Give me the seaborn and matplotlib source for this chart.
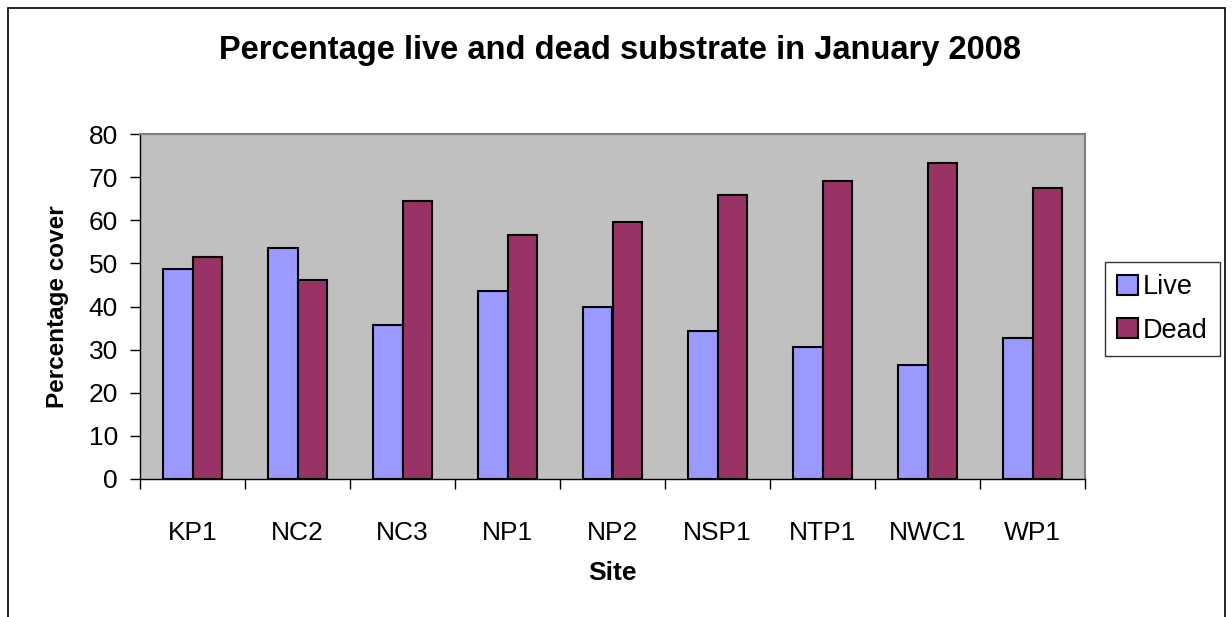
import pandas as pd
import seaborn as sns
import matplotlib.pyplot as plt
from matplotlib.patches import Rectangle

sites = ['KP1', 'NC2', 'NC3', 'NP1', 'NP2', 'NSP1', 'NTP1', 'NWC1', 'WP1']
live = [48.8, 53.6, 35.8, 43.7, 40.0, 34.3, 30.6, 26.4, 32.7]
dead = [51.5, 46.2, 64.5, 56.6, 59.7, 65.9, 69.1, 73.3, 67.5]
y_ticks = [0, 10, 20, 30, 40, 50, 60, 70, 80]

df = pd.DataFrame({'Site': sites * 2,
                   'Cover': live + dead,
                   'Type': ['Live'] * len(sites) + ['Dead'] * len(sites)})

sns.set_style('white')
plt.rcParams['font.family'] = ['Liberation Sans', 'DejaVu Sans']
plt.rcParams['text.color'] = 'black'
plt.rcParams['axes.labelcolor'] = 'black'
plt.rcParams['xtick.color'] = 'black'
plt.rcParams['ytick.color'] = 'black'

fig = plt.figure(figsize=(12.32, 6.17), dpi=100)
ax = fig.add_axes([140 / 1232, 1 - 479 / 617, (1085 - 140) / 1232, (479 - 134) / 617])

sns.barplot(data=df, x='Site', y='Cover', hue='Type', order=sites,
            palette={'Live': '#9999FF', 'Dead': '#993366'},
            width=0.56, edgecolor='black', linewidth=1.5, saturation=1, ax=ax)

ax.set_facecolor('#C0C0C0')
ax.set_xlim(-0.5, len(sites) - 0.5)
ax.set_ylim(0, 80)
ax.set_yticks(y_ticks)
ax.tick_params(axis='y', labelsize=19, length=7, width=1, left=True, pad=9)
ax.tick_params(axis='x', which='major', labelsize=19, length=0, pad=30)
ax.set_xticks([i - 0.5 for i in range(len(sites) + 1)], minor=True)
ax.tick_params(axis='x', which='minor', length=7, width=1, bottom=True)

for s in ['top', 'right']:
    ax.spines[s].set_color('#808080')
    ax.spines[s].set_linewidth(1.5)
for s in ['left', 'bottom']:
    ax.spines[s].set_color('black')
    ax.spines[s].set_linewidth(1)

ax.set_xlabel('Site', fontsize=19, fontweight='bold', labelpad=12)
ax.set_ylabel('Percentage cover', fontsize=17.5, fontweight='bold', labelpad=14)

fig.text(620 / 1232, 1 - 50 / 617, 'Percentage live and dead substrate in January 2008',
         ha='center', va='center', fontsize=23.5, fontweight='bold')

leg = ax.legend(loc='upper left', bbox_to_anchor=(1105 / 1232, 1 - 262 / 617),
                bbox_transform=fig.transFigure, fontsize=19.5,
                frameon=True, fancybox=False, edgecolor='black',
                handlelength=0.75, handleheight=0.75, handletextpad=0.2,
                borderpad=0.45, labelspacing=0.65, borderaxespad=0)
leg.get_frame().set_linewidth(1)

fig.add_artist(Rectangle((8 / 1232, -0.1), (1225 - 8) / 1232, 1.1 - 8 / 617,
                         transform=fig.transFigure, fill=False,
                         edgecolor='black', linewidth=1.2))

fig.savefig('out.png', dpi=100)
